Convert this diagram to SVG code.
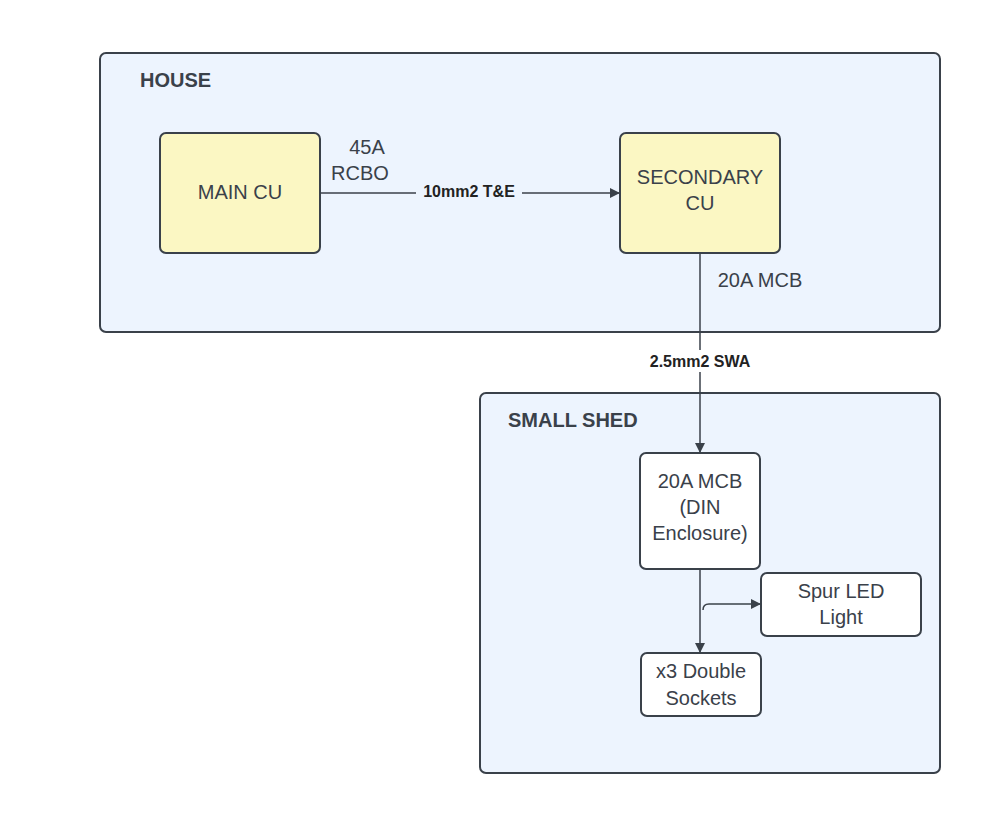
<svg xmlns="http://www.w3.org/2000/svg" width="1001" height="834" viewBox="0 0 1001 834">
<style>
.c{fill:#edf4fe;stroke:#3a414a;stroke-width:2}
.y{fill:#fbf7c3;stroke:#3a414a;stroke-width:2}
.w{fill:#fff;stroke:#3a414a;stroke-width:2}
text{font-family:"Liberation Sans",Arial,sans-serif;fill:#3a414a;font-size:20px;text-anchor:middle}
.h{font-weight:bold;text-anchor:start}
.l{font-weight:bold;font-size:16px;fill:#222}
.e{fill:none;stroke:#3a414a;stroke-width:1.5}
</style>
<defs><marker id="a" markerWidth="10" markerHeight="10" refX="9" refY="5" orient="auto" markerUnits="userSpaceOnUse"><path d="M0,0L10,5L0,10z" fill="#3a414a"/></marker></defs>
<rect width="1001" height="834" fill="#fff"/>
<g id="house"><rect class="c" x="100" y="53" width="840" height="279" rx="6"/><text class="h" x="140" y="87">HOUSE</text></g>
<g id="shed"><rect class="c" x="480" y="393" width="460" height="380" rx="6"/><text class="h" x="508" y="427">SMALL SHED</text></g>
<g id="main"><rect class="y" x="160" y="133" width="160" height="120" rx="6"/><text x="240" y="199">MAIN CU</text></g>
<g id="sec"><rect class="y" x="620" y="133" width="160" height="120" rx="6"/><text x="700" y="184">SECONDARY</text><text x="700" y="210">CU</text></g>
<g id="mcb"><rect class="w" x="640" y="453" width="120" height="116" rx="6"/><text x="700" y="488">20A MCB</text><text x="700" y="514">(DIN</text><text x="700" y="540">Enclosure)</text></g>
<g id="spur"><rect class="w" x="761" y="573" width="160" height="63" rx="6"/><text x="841" y="598">Spur LED</text><text x="841" y="624">Light</text></g>
<g id="sock"><rect class="w" x="641" y="653" width="120" height="63" rx="6"/><text x="701" y="678">x3 Double</text><text x="701" y="705">Sockets</text></g>
<g id="edges">
<path class="e" d="M320,193H619" marker-end="url(#a)"/>
<rect x="416" y="181" width="106" height="20" fill="#edf4fe"/>
<text class="l" x="469" y="197">10mm2 T&amp;E</text>
<text x="367" y="154">45A</text><text x="360" y="180">RCBO</text>
<path class="e" d="M700,253V452" marker-end="url(#a)"/>
<rect x="640" y="350" width="120" height="22" fill="#fff"/>
<text class="l" x="700" y="367">2.5mm2 SWA</text>
<text x="760" y="287">20A MCB</text>
<path class="e" d="M700,569V652" marker-end="url(#a)"/>
<path class="e" d="M703,610Q703,604 709,604H760" marker-end="url(#a)"/>
</g>
</svg>
